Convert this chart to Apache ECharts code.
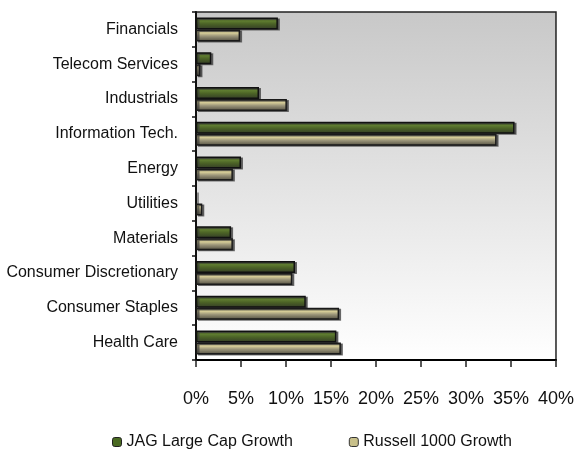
<!DOCTYPE html>
<html>
<head>
<meta charset="utf-8">
<script src="https://cdn.jsdelivr.net/npm/echarts@6/dist/echarts.min.js"></script>
<style>
html, body { margin: 0; padding: 0; background: #fff; }
#main { width: 577px; height: 449px; }
</style>
</head>
<body>
<div id="main"></div>
<script>
// sectors, top to bottom
var sectors = ['Financials', 'Telecom Services', 'Industrials', 'Information Tech.', 'Energy',
    'Utilities', 'Materials', 'Consumer Discretionary', 'Consumer Staples', 'Health Care'];
var jagValues = [9.1, 1.7, 7.0, 35.4, 5.0, 0, 3.9, 11.0, 12.2, 15.6];
var russellValues = [4.9, 0.5, 10.1, 33.4, 4.1, 0.7, 4.1, 10.7, 15.9, 16.1];
var xTicks = [0, 5, 10, 15, 20, 25, 30, 35, 40];

var myChart = echarts.init(document.getElementById('main'));

function stripe(dark, light, mid, bottom) {
    return new echarts.graphic.LinearGradient(0, 0, 0, 1, [
        { offset: 0, color: dark },
        { offset: 0.3, color: light },
        { offset: 0.55, color: mid },
        { offset: 1, color: bottom }
    ]);
}

var option = {
    animation: false,
    textStyle: { fontFamily: 'Liberation Sans, Arial, sans-serif' },
    grid: {
        left: 196, right: 18, top: 12, bottom: 89,
        show: true,
        borderColor: '#222',
        borderWidth: 1.5,
        backgroundColor: new echarts.graphic.LinearGradient(0, 0, 0, 1, [
            { offset: 0, color: '#c8c8c8' },
            { offset: 1, color: '#ffffff' }
        ])
    },
    legend: {
        left: 107,
        top: 429,
        itemWidth: 9,
        itemHeight: 9,
        itemGap: 56,
        textStyle: { fontSize: 16, color: '#111' },
        data: [
            { name: 'JAG Large Cap Growth', itemStyle: { color: '#4a6a22', borderColor: '#222', borderWidth: 1 } },
            { name: 'Russell 1000 Growth', itemStyle: { color: '#c8c08a', borderColor: '#333', borderWidth: 1 } }
        ]
    },
    xAxis: {
        type: 'value',
        min: 0,
        max: 40,
        interval: 5,
        axisLine: { show: true, lineStyle: { color: '#000', width: 2 } },
        axisTick: { show: true, length: 7, lineStyle: { color: '#222', width: 1.5 } },
        splitLine: { show: false },
        axisLabel: {
            fontSize: 18,
            color: '#111',
            margin: 30,
            formatter: function (v) { return xTicks.indexOf(v) >= 0 ? v + '%' : ''; }
        }
    },
    yAxis: {
        type: 'category',
        inverse: true,
        data: sectors,
        axisLine: { show: true, lineStyle: { color: '#111', width: 2 } },
        axisTick: { show: true, length: 4, lineStyle: { color: '#111', width: 1.5 } },
        axisLabel: { fontSize: 16, color: '#111', margin: 18 }
    },
    series: [
        {
            name: 'JAG Large Cap Growth',
            type: 'bar',
            data: jagValues,
            barWidth: 12,
            barGap: '0%',
            itemStyle: {
                color: stripe('#2e3a1c', '#5f7c30', '#4b6226', '#333b27'),
                borderColor: '#111',
                borderWidth: 1.5,
                shadowColor: 'rgba(60,60,60,0.7)',
                shadowOffsetX: 2,
                shadowOffsetY: 1
            }
        },
        {
            name: 'Russell 1000 Growth',
            type: 'bar',
            data: russellValues,
            barWidth: 12,
            barGap: '0%',
            itemStyle: {
                color: stripe('#6e6a52', '#d6cd98', '#9c967a', '#4e4b3e'),
                borderColor: '#1a1a1a',
                borderWidth: 1.5,
                shadowColor: 'rgba(60,60,60,0.7)',
                shadowOffsetX: 2,
                shadowOffsetY: 1
            }
        }
    ]
};

myChart.setOption(option);
</script>
</body>
</html>
